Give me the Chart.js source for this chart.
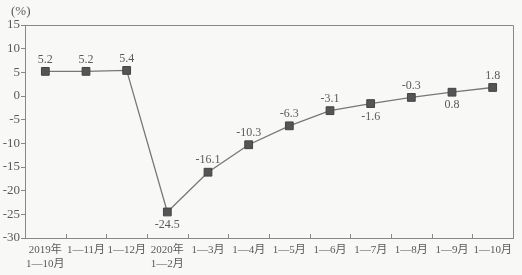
<!DOCTYPE html>
<html><head><meta charset="utf-8">
<script src="https://cdn.jsdelivr.net/npm/chart.js@4/dist/chart.umd.min.js"></script>
<style>html,body{margin:0;padding:0;background:#f8f8f6;}#w{width:522px;height:275px;}</style>
</head><body><div id="w"><canvas id="c"></canvas></div>
<script>
const categories = [["2019年","1—10月"],"1—11月","1—12月",["2020年","1—2月"],"1—3月","1—4月","1—5月","1—6月","1—7月","1—8月","1—9月","1—10月"];
const values = [5.2,5.2,5.4,-24.5,-16.1,-10.3,-6.3,-3.1,-1.6,-0.3,0.8,1.8];
const labelBelow = [false,false,false,true,false,false,false,false,true,false,true,false];
const yTicks = {min:-30,max:15,step:5};
const unitLabel = "(%)";
const FONT = "'Liberation Serif','Noto Sans CJK SC',serif";
const GRAY = "#5a5a5a";

const decor = {
  id:'decor',
  afterDraw(chart){
    const ctx = chart.ctx, a = chart.chartArea, xs = chart.scales.x;
    ctx.save();
    ctx.strokeStyle = '#888'; ctx.lineWidth = 1;
    ctx.beginPath();
    ctx.moveTo(a.left, a.top+0.5); ctx.lineTo(a.right+0.5, a.top+0.5); ctx.lineTo(a.right+0.5, a.bottom);
    ctx.stroke();
    ctx.beginPath();
    for (let i=1;i<categories.length;i++){
      const x = Math.round((xs.getPixelForValue(i-1)+xs.getPixelForValue(i))/2)+0.5;
      ctx.moveTo(x,a.bottom); ctx.lineTo(x,a.bottom-4);
    }
    ctx.stroke();
    ctx.fillStyle = GRAY; ctx.font = "13px "+FONT; ctx.textAlign='left'; ctx.textBaseline='middle';
    ctx.fillText(unitLabel, 11, 12);
    const meta = chart.getDatasetMeta(0);
    ctx.font = "12px "+FONT; ctx.textAlign='center';
    meta.data.forEach((p,i)=>{
      const below = labelBelow[i];
      ctx.textBaseline = below ? 'top' : 'bottom';
      ctx.fillText(values[i].toFixed(1), p.x, below ? p.y+7 : p.y-6);
    });
    ctx.restore();
  }
};

new Chart(document.getElementById('c'),{
  type:'line',
  data:{labels:categories,datasets:[{data:values,borderColor:'#777',borderWidth:1.3,
    pointStyle:'rect',pointRadius:5.5,pointHoverRadius:5.5,pointBackgroundColor:'#555',pointBorderColor:'#444',pointBorderWidth:1,tension:0}]},
  options:{
    responsive:true,maintainAspectRatio:false,animation:false,
    layout:{padding:{top:25,right:9,left:0,bottom:0}},
    plugins:{legend:{display:false},tooltip:{enabled:false}},
    scales:{
      x:{offset:true,
        grid:{display:true,drawOnChartArea:false,drawTicks:false,offset:true,color:'rgba(0,0,0,0)'},
        border:{display:true,color:'#888'},
        ticks:{color:GRAY,font:{family:FONT,size:11},maxRotation:0,autoSkip:false,padding:6},
        afterFit(s){s.height=37;}},
      y:{min:yTicks.min,max:yTicks.max,
        grid:{display:true,drawOnChartArea:false,drawTicks:true,tickLength:4,color:'#888'},
        border:{display:true,color:'#888'},
        ticks:{stepSize:yTicks.step,color:GRAY,font:{family:FONT,size:13},padding:1},
        afterFit(s){s.width=25;}}
    }
  },
  plugins:[decor]
});
</script></body></html>
